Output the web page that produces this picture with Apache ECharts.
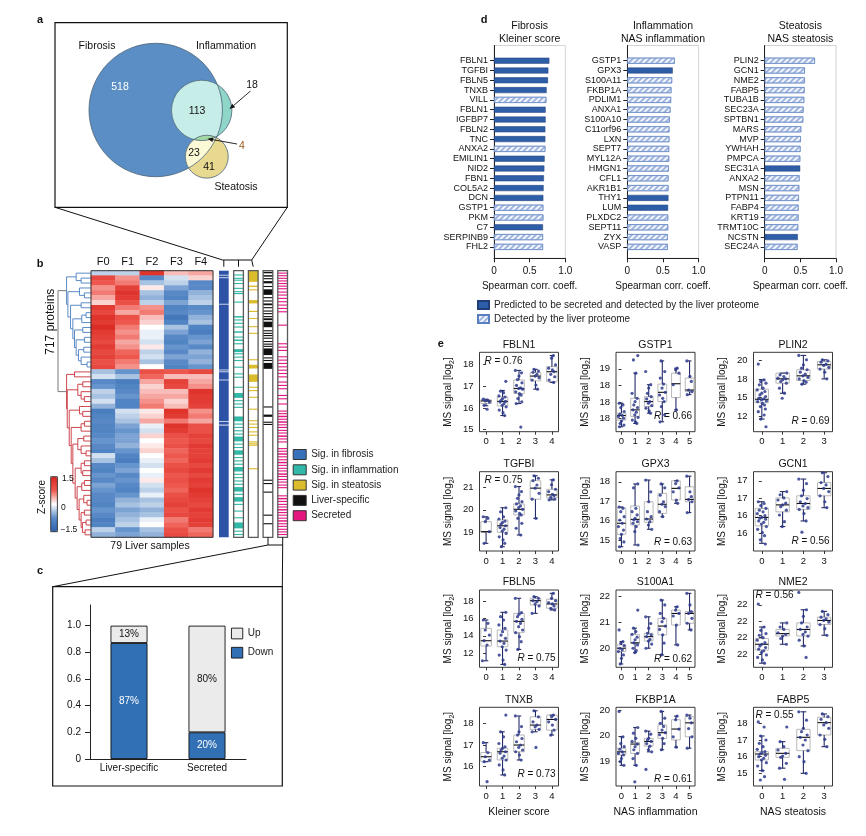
<!DOCTYPE html>
<html>
<head>
<meta charset="utf-8">
<script src="https://cdn.jsdelivr.net/npm/echarts@6.0.0/dist/echarts.min.js"></script>
<style>
html,body{margin:0;padding:0;background:#ffffff;}
#chart{width:866px;height:836px;}
</style>
</head>
<body>
<div id="chart"></div>
<script>
// ===================== DATA =====================
// ---- panel a : Venn ----
const vennSetNames = ['Fibrosis', 'Inflammation', 'Steatosis'];
// region counts: F only, F∩I, I only, F∩I∩S, F∩S, S only
const vennRegionCounts = [518, 113, 18, 4, 23, 41];

// ---- panel b : heatmap (row bands of the 717 proteins, z-scores) ----
const heatCols = ['F0', 'F1', 'F2', 'F3', 'F4'];
const heatRows = [
  [-0.3,-0.3,1.3,0.3,0.4],[1.0,0.5,-0.8,-0.2,0.2],[0.8,0.6,-0.4,-0.3,-0.8],[0.5,1.1,0.1,-0.6,-0.8],
  [0.6,1.3,-0.4,-0.8,-0.5],[0.4,1.2,-0.5,-0.9,-0.4],[0.2,0.9,-0.3,-0.6,-0.3],[1.2,0.6,0.5,-0.9,-0.8],
  [1.0,0.4,0.6,-0.8,-0.7],[1.3,0.9,0.3,-1.1,-0.5],[1.2,0.8,0.2,-0.9,-0.4],[1.4,0.6,0.0,-0.4,-0.9],
  [1.2,0.5,-0.1,-0.6,-1.0],[1.1,0.6,-0.1,-0.8,-0.7],[1.0,0.4,-0.2,-0.9,-0.6],[1.2,0.5,0.1,-0.7,-0.8],
  [1.0,0.7,-0.3,-0.8,-0.5],[1.1,0.8,-0.2,-0.6,-0.6],[0.9,0.6,-0.4,-0.8,-0.5],[1.0,0.5,0.0,-0.9,-0.7],
  [-0.4,-0.7,0.9,0.8,1.0],[-0.2,-0.4,0.7,0.3,0.3],[-0.8,-1.0,0.4,1.1,0.4],[-0.7,-0.9,0.2,1.0,0.5],
  [-0.3,-0.8,0.3,0.3,1.3],[-0.4,-0.7,0.4,0.4,1.2],[-0.2,-0.9,0.5,0.2,1.2],[-0.5,-0.9,0.6,0.3,1.1],
  [-1.0,-0.2,0.1,1.3,0.5],[-0.9,-0.3,0.2,1.2,0.6],[-0.8,-0.4,0.4,0.6,0.4],[-0.9,-0.6,-0.1,1.3,0.9],
  [-0.9,-0.7,-0.2,1.2,0.9],[-0.8,-0.6,0.2,0.9,1.1],[-0.7,-0.6,0.0,0.8,1.0],[-0.8,-0.5,0.1,0.9,1.2],
  [-0.9,-0.7,0.2,0.7,1.1],[-0.2,-0.9,0.0,0.8,1.1],[-0.4,-1.0,-0.1,0.7,1.2],[-0.8,-0.7,-0.2,0.9,1.0],
  [-0.9,-0.6,0.0,1.0,1.2],[-0.7,-0.8,-0.1,0.8,1.0],[-0.8,-0.7,0.1,0.9,1.2],[-0.6,-0.8,-0.2,0.8,1.1],
  [-0.7,-0.9,-0.3,0.7,1.3],[-0.8,-0.7,-0.1,0.9,1.2],[-0.8,-0.5,-0.4,1.0,1.1],[-0.9,-0.4,-0.3,1.1,1.0],
  [-0.7,-0.6,-0.5,0.9,1.2],[-0.8,-0.5,-0.4,1.0,1.1],[-1.0,-0.4,-0.1,0.6,1.2],[-0.9,-0.3,0.0,0.7,1.1],
  [-0.3,-0.7,-0.4,0.9,0.6],[-0.5,-0.6,-0.5,1.0,0.7]
];
// dendrogram over the row bands: [height, left, right]
const blueTree = [0.74, [0.45, 0, [0.3, 1, 2]],
  [0.70, [0.35, 3, [0.2, 4, 5]],
  [0.62, [0.3, 6, 7],
  [0.55, [0.28, [0.15, 8, 9], 10],
  [0.5, [0.25, 11, 12],
  [0.45, [0.2, 13, 14],
  [0.38, [0.22, 15, 16],
  [0.3, 17, [0.12, 18, 19]]]]]]]]];
const redTree = [0.74, [0.5, 20, 21],
  [0.72, [0.4, [0.25, 22, 23], [0.3, 24, [0.2, 25, 26]]],
  [0.66, [0.35, 27, [0.25, 28, 29]],
  [0.6, [0.3, [0.2, 30, 31], 32],
  [0.55, [0.4, [0.22, 33, 34], [0.3, 35, [0.15, 36, 37]]],
  [0.48, [0.3, [0.2, 38, 39], [0.25, 40, 41]],
  [0.42, [0.28, [0.2, 42, 43], 44],
  [0.36, [0.22, 45, [0.12, 46, 47]],
  [0.3, [0.2, 48, 49],
  [0.26, [0.15, 50, 51], [0.18, 52, 53]]]]]]]]]]];
const proteinCount = 717;
// annotation tracks: protein index ranges [start, end]
const annoNames = ['Sig. in fibrosis', 'Sig. in inflammation', 'Sig. in steatosis', 'Liver-specific', 'Secreted'];
const annoFib = [[0,11],[13,18],[20,89],[91,266],[268,271],[273,293],[295,405],[407,414],[416,717]];
const annoInfl = [[10,13],[19,22],[24,27],[33,36],[46,49],[55,58],[60,63],[83,86],[122,126],[131,134],[140,143],[150,153],[163,167],[177,180],[185,189],[195,198],[211,219],[222,225],[231,234],[240,243],[258,261],[276,279],[285,288],[312,315],[329,342],[348,351],[357,360],[366,369],[392,405],[411,414],[420,423],[429,432],[438,441],[446,459],[465,468],[474,477],[483,495],[501,504],[510,513],[519,522],[528,540],[546,549],[555,558],[564,567],[573,576],[582,594],[600,603],[609,621],[627,630],[645,648],[663,666],[677,693],[699,702],[708,711]];
const annoSteat = [[0,30],[40,44],[50,53],[79,88],[108,111],[127,130],[149,152],[167,170],[238,241],[253,263],[279,299],[312,315],[321,324],[339,342],[371,374],[402,405],[411,414],[420,423],[432,435],[441,444],[459,462],[464,467],[468,471],[531,534]];
const annoLiver = [[3,7],[12,16],[20,23],[28,34],[41,44],[50,65],[71,74],[80,83],[88,93],[98,101],[107,110],[114,117],[122,125],[128,133],[137,152],[160,163],[167,170],[173,176],[180,183],[189,192],[196,199],[202,205],[209,227],[233,236],[240,243],[248,264],[365,368],[387,393],[406,409],[412,415],[562,565],[571,574],[594,597],[656,659],[679,682]];
const annoSecr = [[5,8],[12,15],[19,22],[26,29],[33,36],[40,43],[47,50],[56,59],[64,67],[73,76],[82,85],[91,94],[100,103],[109,112],[145,148],[195,198],[204,207],[213,216],[230,233],[239,242],[248,251],[257,260],[266,269],[275,278],[284,287],[298,301],[307,310],[316,319],[334,337],[343,346],[357,360],[376,379],[383,386],[390,394],[398,401],[405,409],[413,416],[420,423],[428,431],[435,438],[443,447],[451,454],[459,462],[477,480],[484,487],[491,495],[499,502],[507,510],[514,518],[522,525],[530,533],[537,540],[545,549],[552,555],[560,563],[567,570],[575,578],[582,585],[604,607],[611,615],[619,622],[627,630],[634,637],[641,645],[649,652],[656,659],[664,667],[671,675],[679,682],[686,689],[694,697],[701,704],[708,711]];

// ---- panel c ----
const cCats = ['Liver-specific', 'Secreted'];
const cDown = [0.87, 0.20];
const cUp = [0.13, 0.80];
const cTicks = [0, 0.2, 0.4, 0.6, 0.8, 1.0];
const cTickLabels = ['0', '0.2', '0.4', '0.6', '0.8', '1.0'];

// ---- panel d ----
const fibGenes = ['FBLN1','TGFBI','FBLN5','TNXB','VILL','FBLN1','IGFBP7','FBLN2','TNC','ANXA2','EMILIN1','NID2','FBN1','COL5A2','DCN','GSTP1','PKM','C7','SERPINB9','FHL2'];
const fibVals = [0.776,0.762,0.757,0.738,0.734,0.724,0.724,0.72,0.72,0.72,0.71,0.706,0.70,0.696,0.692,0.692,0.692,0.687,0.687,0.687];
const fibSecreted = [1,1,1,1,0,1,1,1,1,0,1,1,1,1,1,0,0,1,0,0];
const inflGenes = ['GSTP1','GPX3','S100A11','FKBP1A','PDLIM1','ANXA1','S100A10','C11orf96','LXN','SEPT7','MYL12A','HMGN1','CFL1','AKR1B1','THY1','LUM','PLXDC2','SEPT11','ZYX','VASP'];
const inflVals = [0.665,0.637,0.628,0.619,0.614,0.605,0.595,0.59,0.59,0.586,0.586,0.581,0.577,0.577,0.577,0.572,0.572,0.572,0.567,0.567];
const inflSecreted = [0,1,0,0,0,0,0,0,0,0,0,0,0,0,1,1,0,0,0,0];
const steatGenes = ['PLIN2','GCN1','NME2','FABP5','TUBA1B','SEC23A','SPTBN1','MARS','MVP','YWHAH','PMPCA','SEC31A','ANXA2','MSN','PTPN11','FABP4','KRT19','TRMT10C','NCSTN','SEC24A'];
const steatVals = [0.704,0.563,0.563,0.559,0.554,0.545,0.54,0.512,0.507,0.502,0.498,0.498,0.488,0.484,0.479,0.474,0.474,0.469,0.465,0.46];
const steatSecreted = [0,0,0,0,0,0,0,0,0,0,0,1,0,0,0,0,0,0,1,0];
const dTitles = [['Fibrosis','Kleiner score'],['Inflammation','NAS inflammation'],['Steatosis','NAS steatosis']];
const dTicks = [0, 0.5, 1];
const dTickLabels = ['0', '0.5', '1.0'];
const dLegend = ['Predicted to be secreted and detected by the liver proteome', 'Detected by the liver proteome'];

// ---- panel e : box plots  [low whisker, q1, median, q3, high whisker] ----
const kleinerCats = ['0','1','2','3','4'];
const nasInflCats = ['0','1','2','3','4','5'];
const nasSteatCats = ['0','1','2','3'];

const FBLN1_stats = [[16.1,16.2,16.32,16.37,16.4],[15.65,16.09,16.3,16.51,16.8],[16.2,16.66,16.89,17.28,17.72],[16.86,17.24,17.46,17.63,17.77],[17.17,17.2,17.66,17.89,18.4]];
const FBLN1_pts = [[16.40,16.35,16.32,16.27,16.12,15.94],[17.22,16.77,16.7,16.55,16.5,16.43,16.35,16.3,16.27,16.2,16.12,16.05,15.9,15.78,15.65],[17.72,17.61,17.46,17.3,17.15,17.03,16.92,16.89,16.86,16.74,16.66,16.59,16.43,16.28,16.2,15.12],[17.77,17.69,17.63,17.54,17.46,17.38,17.28,17.05,16.86],[18.4,18.28,17.97,17.82,17.74,17.66,17.54,17.43,17.28,17.17]];
const FBLN1_ticks = [15,16,17,18], FBLN1_labels = ['15','16','17','18'];

const GSTP1_stats = [[17.25,17.45,17.59,17.66,17.96],[17.35,17.56,17.76,18.11,18.87],[17.66,17.86,18.01,18.16,18.52],[17.4,18.01,18.29,18.54,19.24],[17.76,18.13,18.55,18.87,19.02],[18.22,18.31,18.36,18.72,19.24]];
const GSTP1_pts = [[17.96,17.91,17.83,17.71,17.63,17.59,17.56,17.51,17.42,17.35,17.3,17.25],[19.4,19.27,18.87,18.26,18.11,18.01,17.91,17.83,17.76,17.69,17.61,17.53,17.45,17.4,17.35],[18.92,18.52,18.42,18.26,18.16,18.09,18.01,17.96,17.89,17.81,17.73,17.66],[19.24,18.92,18.72,18.54,18.42,18.29,18.21,18.11,18.01,17.86,17.61,17.4],[19.02,18.97,18.87,18.52,17.76],[19.24,18.77,18.62,18.36,18.31,18.22]];
const GSTP1_ticks = [17.5,18,18.5,19], GSTP1_labels = ['18','18','18','19'];

const PLIN2_stats = [[12.08,14.29,14.75,16.11,17.38],[15.57,16.93,17.51,18.29,18.29],[16.79,17.29,17.92,18.74,20.68],[17.51,18.83,19.41,19.86,20.09]];
const PLIN2_pts = [[19.51,17.38,17.15,16.93,16.7,16.25,16.02,15.8,15.57,15.34,15.12,14.89,14.8,14.66,14.53,14.44,14.21,13.98,13.76,13.44,13.08,12.63,12.08,11.04],[18.29,18.06,17.83,17.61,17.51,17.38,17.15,16.93,16.25,15.57,14.89],[20.68,20.09,19.41,18.96,18.74,18.42,18.15,17.92,17.7,17.52,17.29,17.06,16.79],[20.09,19.95,19.77,19.5,19.32,19.05,18.83,18.42,17.51]];
const PLIN2_ticks = [12.5,15,17.5,20], PLIN2_labels = ['12','15','18','20'];

const TGFBI_stats = [[18.51,19.0,19.03,19.47,19.69],[18.36,19.0,19.29,19.55,20.09],[18.88,19.77,20.02,20.26,21.03],[19.62,20.47,20.96,21.29,21.51],[20.44,20.53,20.66,20.91,21.33]];
const TGFBI_pts = [[19.69,19.62,19.47,19.03,18.51],[20.09,19.91,19.69,19.59,19.5,19.44,19.36,19.29,19.21,19.14,19.05,18.95,18.8,18.66,18.51,18.36],[21.03,20.81,20.66,20.51,20.36,20.26,20.17,20.1,20.02,19.95,19.84,19.77,19.62,19.4,19.18,18.88],[21.51,21.4,21.29,21.1,20.96,20.73,20.47,19.62],[21.33,21.11,20.91,20.81,20.69,20.63,20.55,20.47,20.44]];
const TGFBI_ticks = [19,20,21], TGFBI_labels = ['19','20','21'];

const GPX3_stats = [[14.65,15.29,15.86,16.66,16.7],[14.74,15.77,16.06,16.75,17.89],[15.55,15.91,16.08,16.97,18.09],[16.2,16.37,16.84,17.4,17.89],[16.89,17.06,17.66,18.05,18.05],[16.41,16.97,17.09,17.74,18.29]];
const GPX3_pts = [[16.7,16.63,16.46,16.2,16.03,15.86,15.69,15.51,15.29,15.07,14.9,14.65],[17.89,17.69,16.63,16.46,16.29,16.12,16.03,15.94,15.86,15.69,15.43,14.74],[18.09,17.48,16.97,16.46,16.2,16.08,15.94,15.77,15.55],[17.89,17.69,17.31,16.97,16.84,16.72,16.46,16.2],[18.05,17.91,17.69,17.48,17.06,16.89],[18.29,17.48,17.23,17.09,16.97,16.41]];
const GPX3_ticks = [15,16,17,18], GPX3_labels = ['15','16','17','18'];

const GCN1_stats = [[15.71,16.21,16.45,16.71,16.9],[16.19,16.61,16.81,17.01,17.19],[16.35,16.68,16.85,17.07,17.55],[16.73,17.07,17.28,17.45,17.73]];
const GCN1_pts = [[16.9,16.85,16.79,16.71,16.66,16.61,16.56,16.5,16.45,16.43,16.4,16.35,16.31,16.26,16.19,16.11,16.02,15.93,15.81,15.69],[17.19,17.1,17.01,16.95,16.86,16.81,16.76,16.66,16.52,16.33,16.19],[17.55,17.42,17.23,17.07,16.99,16.9,16.85,16.78,16.73,16.68,16.56,16.35,16.03],[17.73,17.62,17.45,17.38,17.28,17.19,17.07,16.9,16.73]];
const GCN1_ticks = [16,16.5,17,17.5], GCN1_labels = ['16','16','17','17'];

const FBLN5_stats = [[11.14,12.83,13.44,14.86,15.82],[10.72,12.75,13.4,14.67,16.7],[12.44,14.36,15.66,16.58,18.31],[16.58,17.54,18.04,18.31,18.49],[16.97,17.16,17.66,18.2,18.88]];
const FBLN5_pts = [[15.82,15.44,14.67,14.09,13.44,12.95,11.14],[16.7,16.2,15.82,15.25,14.86,14.48,14.09,13.71,13.4,13.14,12.75,12.37,11.79,11.22,10.72],[18.31,16.66,16.47,16.2,15.9,15.66,15.43,15.05,14.67,14.36,13.9,13.33,12.44],[18.49,18.31,18.04,17.92,17.66,17.43,16.58],[18.88,18.31,18.04,17.8,17.66,17.43,17.16,16.97]];
const FBLN5_ticks = [12,14,16,18], FBLN5_labels = ['12','14','16','18'];

const S100A1_stats = [[19.39,19.87,20.0,20.13,20.26],[19.83,20.19,20.21,20.54,20.78],[20.0,20.28,20.45,20.58,21.22],[19.74,20.52,20.86,21.16,21.87],[20.13,20.9,21.35,21.48,21.61],[20.71,20.97,21.35,21.42,22.13]];
const S100A1_pts = [[20.71,20.26,20.19,20.1,20.0,19.94,19.87,19.74,19.61,19.39],[21.48,20.78,20.65,20.54,20.43,20.33,20.21,20.13,20.0,19.91,19.83],[21.22,20.96,20.78,20.58,20.52,20.45,20.34,20.28,20.16,20.0],[21.87,21.68,21.35,21.16,21.03,20.86,20.73,20.52,20.2,19.74],[21.61,21.48,21.35,21.25,20.9,20.13],[22.13,21.68,21.42,21.35,21.16,20.97,20.71]];
const S100A1_ticks = [20,21,22], S100A1_labels = ['20','21','22'];

const NME2_stats = [[21.49,21.65,21.72,21.79,21.93],[21.72,21.82,21.85,21.9,21.98],[21.7,21.82,21.9,21.98,22.14],[21.83,21.96,22.01,22.05,22.12]];
const NME2_pts = [[22.21,21.93,21.89,21.85,21.83,21.8,21.77,21.74,21.72,21.7,21.68,21.66,21.64,21.62,21.59,21.56,21.53,21.49],[21.98,21.93,21.9,21.86,21.84,21.82,21.79,21.72],[22.35,22.14,22.06,21.98,21.93,21.9,21.87,21.84,21.82,21.77,21.7,21.56],[22.12,22.08,22.05,22.03,22.01,21.99,21.96,21.91,21.83]];
const NME2_ticks = [21.6,21.8,22.0,22.2], NME2_labels = ['22','22','22','22'];

const TNXB_stats = [[16.23,16.23,16.46,16.65,17.11],[15.62,16.31,16.69,16.85,17.61],[16.31,16.69,17.0,17.46,18.34],[17.61,17.72,17.92,18.3,18.58],[17.46,17.69,18.18,18.38,18.38]];
const TNXB_pts = [[17.11,16.65,16.46,16.3,16.23,15.31],[18.38,17.61,17.38,17.07,16.92,16.85,16.77,16.69,16.62,16.49,16.39,16.31,16.08,15.85,15.62],[18.34,17.85,17.61,17.46,17.3,17.15,17.0,16.89,16.77,16.69,16.54,16.31],[18.58,18.3,18.07,17.92,17.84,17.72,17.61,16.89],[18.38,18.3,18.18,18.07,17.92,17.69,17.46]];
const TNXB_ticks = [16,17,18], TNXB_labels = ['16','17','18'];

const FKBP1A_stats = [[18.93,19.13,19.19,19.26,19.48],[18.93,19.16,19.34,19.37,19.66],[19.19,19.3,19.39,19.45,19.59],[19.23,19.45,19.56,19.71,19.97],[19.28,19.42,19.63,19.81,19.88],[19.26,19.48,19.75,19.87,19.9]];
const FKBP1A_pts = [[19.97,19.48,19.35,19.29,19.24,19.19,19.16,19.13,19.06,19.0,18.93],[19.66,19.55,19.45,19.39,19.34,19.29,19.23,19.16,19.06,18.93,18.61],[19.59,19.53,19.45,19.42,19.39,19.35,19.3,19.23,19.19,18.85],[19.97,19.84,19.74,19.68,19.61,19.56,19.52,19.45,19.35,19.23],[19.88,19.81,19.63,19.48,19.28],[19.9,19.84,19.75,19.64,19.48,19.26]];
const FKBP1A_ticks = [19,19.5,20], FKBP1A_labels = ['19','20','20'];

const FABP5_stats = [[15.16,15.8,16.16,16.3,17.24],[15.31,15.96,16.2,16.5,16.9],[15.0,16.36,17.16,17.64,18.69],[16.6,17.3,18.04,18.36,18.56]];
const FABP5_pts = [[18.08,17.78,17.24,17.0,16.8,16.6,16.44,16.3,16.24,16.16,16.08,16.0,15.9,15.8,15.64,15.44,15.16,14.8,14.6],[17.78,16.9,16.6,16.4,16.2,16.04,15.96,15.6,15.31,14.64],[18.69,18.19,17.7,17.5,17.3,17.16,17.0,16.7,16.36,16.0,15.7,15.0],[18.56,18.4,18.24,18.04,17.9,17.7,17.3,17.04,16.6]];
const FABP5_ticks = [15,16,17,18], FABP5_labels = ['15','16','17','18'];

const eRValues = ['0.76','0.66','0.69','0.75','0.63','0.56','0.75','0.62','0.56','0.73','0.61','0.55'];

// ===================== LAYOUT / BUILD =====================
const FONT = "'Liberation Sans', Arial, Helvetica, sans-serif";
const grids = [], xAxes = [], yAxes = [], series = [], graphics = [];
function addGrid(g, x, y) {
  grids.push(g);
  const i = grids.length - 1;
  xAxes.push(Object.assign({gridIndex: i}, x));
  yAxes.push(Object.assign({gridIndex: i}, y));
  return i;
}
const hidden = (min, max, inv) => ({type: 'value', min, max, inverse: !!inv, show: false});
function txt(text, x, y, o) {
  o = o || {};
  return {type: 'text', x, y, z: 100, silent: true, rotation: o.rot || 0,
    style: Object.assign({text, fontSize: o.fs || 10, fontFamily: FONT, fill: o.color || '#111',
      fontWeight: o.bold ? 'bold' : 'normal', align: o.align || 'center', verticalAlign: o.va || 'middle'}, o.style || {})};
}
function ln(x1, y1, x2, y2, o) {
  o = o || {};
  return {type: 'line', z: 100, silent: true, shape: {x1, y1, x2, y2}, style: {stroke: o.color || '#111', lineWidth: o.w || 1}};
}
function rectO(x, y, w, h, o) {
  o = o || {};
  return {type: 'rect', z: 100, silent: true, shape: {x, y, width: w, height: h}, style: {fill: 'none', stroke: o.color || '#111', lineWidth: o.w || 1}};
}
function arrow(x1, y1, x2, y2) {
  const a = Math.atan2(y2 - y1, x2 - x1), L = 5.5, W = 2.3;
  const bx = x2 - L * Math.cos(a), by = y2 - L * Math.sin(a);
  const nx = -Math.sin(a), ny = Math.cos(a);
  return [ln(x1, y1, bx, by, {w: 0.9}), {type: 'polygon', z: 100, silent: true,
    shape: {points: [[x2, y2], [bx + W * nx, by + W * ny], [bx - W * nx, by - W * ny]]}, style: {fill: '#111'}}];
}

// ---------- panel a : Venn ----------
const vennTotals = [
  vennRegionCounts[0] + vennRegionCounts[1] + vennRegionCounts[3] + vennRegionCounts[4],
  vennRegionCounts[1] + vennRegionCounts[2] + vennRegionCounts[3],
  vennRegionCounts[3] + vennRegionCounts[4] + vennRegionCounts[5]
];
const vennCenters = [[100.7, 87.3], [146.7, 87.7], [151.8, 134.0]];
const vennRadiusScale = 2.6;
function lensPts(a, b, n) {
  const dx = b.x - a.x, dy = b.y - a.y, d = Math.hypot(dx, dy);
  const t = Math.atan2(dy, dx);
  const da = (d * d + a.r * a.r - b.r * b.r) / (2 * d), db = d - da;
  const al = Math.acos(Math.max(-1, Math.min(1, da / a.r)));
  const bl = Math.acos(Math.max(-1, Math.min(1, db / b.r)));
  const pts = [];
  for (let i = 0; i <= n; i++) { const th = t - al + 2 * al * i / n; pts.push([a.x + a.r * Math.cos(th), a.y + a.r * Math.sin(th)]); }
  const t2 = t + Math.PI;
  for (let i = 0; i <= n; i++) { const th = t2 - bl + 2 * bl * i / n; pts.push([b.x + b.r * Math.cos(th), b.y + b.r * Math.sin(th)]); }
  return pts;
}
function renderVenn(params, api) {
  const C = vennCenters.map((c, i) => {
    const p = api.coord(c);
    const r = api.size([vennRadiusScale * Math.sqrt(vennTotals[i]), 0])[0];
    return {x: p[0], y: p[1], r};
  });
  const circ = (c, fill) => ({type: 'circle', shape: {cx: c.x, cy: c.y, r: c.r}, style: {fill}});
  const poly = (pts, fill) => ({type: 'polygon', shape: {points: pts}, style: {fill}});
  const outl = c => ({type: 'circle', shape: {cx: c.x, cy: c.y, r: c.r}, style: {fill: 'none', stroke: '#4d6377', lineWidth: 0.8}});
  return {type: 'group', children: [
    circ(C[0], '#5b8ec4'),
    circ(C[1], '#8fd5c8'),
    poly(lensPts(C[0], C[1], 60), '#c6ede7'),
    circ(C[2], '#e7d98f'),
    poly(lensPts(C[0], C[2], 60), '#fbf9d6'),
    poly(lensPts(C[1], C[2], 40), '#a3d8a6'),
    outl(C[0]), outl(C[1]), outl(C[2])
  ]};
}
const gV = addGrid({left: 55, top: 22.7, width: 232.3, height: 184.6}, hidden(0, 232.3), hidden(0, 184.6, true));
series.push({type: 'custom', xAxisIndex: gV, yAxisIndex: gV, data: [[0, 0]], silent: true, renderItem: renderVenn});

graphics.push(rectO(55, 22.7, 232.3, 184.6, {w: 1.2}));
graphics.push(txt('a', 40, 20, {bold: true, fs: 11}));
graphics.push(txt(vennSetNames[0], 97, 46, {fs: 10.5}));
graphics.push(txt(vennSetNames[1], 226, 46, {fs: 10.5}));
graphics.push(txt(vennSetNames[2], 236, 187, {fs: 10.5}));
graphics.push(txt(String(vennRegionCounts[0]), 120, 87, {fs: 10.5, color: '#ffffff'}));
graphics.push(txt(String(vennRegionCounts[1]), 197, 111, {fs: 10.5}));
graphics.push(txt(String(vennRegionCounts[2]), 252, 85, {fs: 10.5}));
graphics.push(txt(String(vennRegionCounts[3]), 242, 146, {fs: 10.5, color: '#9a5a1c'}));
graphics.push(txt(String(vennRegionCounts[4]), 194, 153, {fs: 10.5}));
graphics.push(txt(String(vennRegionCounts[5]), 209, 167, {fs: 10.5}));
graphics.push(...arrow(250.5, 91, 229.5, 109));
graphics.push(...arrow(237, 144, 207.5, 138.7));
// zoom lines a -> b
graphics.push(ln(55, 207.3, 222.7, 260));
graphics.push(ln(287.3, 207.3, 251.7, 260));
graphics.push(ln(222.7, 260, 251.7, 260));
graphics.push(ln(223.8, 260, 223.8, 266.7), ln(238.5, 260, 238.5, 266.7), ln(251.7, 260, 253.2, 266.7));

// ---------- panel b : dendrogram ----------
function layoutTree(node, segs, grp) {
  if (typeof node === 'number') return {h: 0, y: node + 0.5};
  const L = layoutTree(node[1], segs, grp), R = layoutTree(node[2], segs, grp);
  const h = node[0];
  segs.push([h, L.y, h, R.y, grp], [h, L.y, L.h, L.y, grp], [h, R.y, R.h, R.y, grp]);
  return {h, y: (L.y + R.y) / 2};
}
const dendroSegs = [];
const bNode = layoutTree(blueTree, dendroSegs, 1);
const rNode = layoutTree(redTree, dendroSegs, 2);
dendroSegs.push([1, bNode.y, 1, rNode.y, 0], [1, bNode.y, bNode.h, bNode.y, 0], [1, rNode.y, rNode.h, rNode.y, 0]);
const dendroColors = ['#6a6a6a', '#4a7ec2', '#c8323a'];
const gD = addGrid({left: 58, top: 270.7, width: 33, height: 266.6}, hidden(0, 1, true), hidden(0, heatRows.length, true));
series.push({type: 'custom', xAxisIndex: gD, yAxisIndex: gD, data: dendroSegs, silent: true,
  renderItem: (params, api) => {
    const p1 = api.coord([api.value(0), api.value(1)]), p2 = api.coord([api.value(2), api.value(3)]);
    return {type: 'line', shape: {x1: p1[0], y1: p1[1], x2: p2[0], y2: p2[1]},
      style: {stroke: dendroColors[api.value(4)], lineWidth: 0.9}};
  }});

// ---------- panel b : heatmap ----------
const heatData = [];
heatRows.forEach((row, r) => row.forEach((v, c) => heatData.push([c, r, v])));
const gH = addGrid({left: 91, top: 270.7, width: 122, height: 266.6},
  {type: 'category', data: heatCols, position: 'top', axisLine: {show: false}, axisTick: {show: false},
    axisLabel: {fontSize: 11, color: '#111', fontFamily: FONT, margin: 3}},
  {type: 'category', data: heatRows.map((_, i) => 'r' + i), inverse: true, show: false});
const heatSeriesIndex = series.length;
series.push({type: 'heatmap', xAxisIndex: gH, yAxisIndex: gH, data: heatData, silent: true});
graphics.push(rectO(91, 270.7, 122, 266.6, {w: 1, color: '#333'}));

// ---------- panel b : annotation tracks ----------
const annoColors = ['#2e52a6', '#31b8a6', '#dbbc2c', '#111111', '#e3167f'];
const annoTracks = [annoFib, annoInfl, annoSteat, annoLiver, annoSecr];
const gA = addGrid({left: 216.5, top: 270.7, width: 73.5, height: 266.6}, hidden(0, 5), hidden(0, proteinCount, true));
function renderAnno(params, api) {
  const c = api.value(0), s = api.value(1), e = api.value(2);
  const p0 = api.coord([c + 0.5 - 0.33, s]), p1 = api.coord([c + 0.5 + 0.33, e]);
  return {type: 'rect', shape: {x: p0[0], y: p0[1], width: p1[0] - p0[0], height: Math.max(1, p1[1] - p0[1])},
    style: {fill: api.visual('color')}};
}
annoTracks.forEach((arr, ci) => {
  series.push({type: 'custom', name: annoNames[ci], xAxisIndex: gA, yAxisIndex: gA, silent: true,
    itemStyle: {color: annoColors[ci]}, data: arr.map(r => [ci, r[0], r[1]]), renderItem: renderAnno});
});
series.push({type: 'custom', xAxisIndex: gA, yAxisIndex: gA, silent: true, data: [[1], [2], [3], [4]],
  renderItem: (params, api) => {
    const c = api.value(0);
    const p0 = api.coord([c + 0.5 - 0.33, 0]), p1 = api.coord([c + 0.5 + 0.33, proteinCount]);
    return {type: 'rect', shape: {x: p0[0], y: p0[1], width: p1[0] - p0[0], height: p1[1] - p0[1]},
      style: {fill: 'none', stroke: '#5a5a5a', lineWidth: 1.3}};
  }});

graphics.push(txt('b', 40, 264, {bold: true, fs: 11}));
graphics.push(txt('717 proteins', 50.5, 321.7, {fs: 12, rot: Math.PI / 2}));
graphics.push(txt('79 Liver samples', 150, 546, {fs: 10.5}));
graphics.push(txt('Z-score', 42.7, 497, {fs: 10, rot: Math.PI / 2}));
graphics.push(rectO(50.7, 476.7, 6.7, 55, {w: 0.8}));
graphics.push(txt('1.5', 62, 479, {fs: 8.5, align: 'left'}));
graphics.push(txt('0', 61, 507.5, {fs: 8.5, align: 'left'}));
graphics.push(txt('\u22121.5', 60.5, 529.5, {fs: 8.5, align: 'left'}));
// bracket b -> c
graphics.push(ln(268, 537.3, 268, 545), ln(282.7, 537.3, 282.7, 545), ln(268, 545, 282.7, 545));
graphics.push(ln(52.7, 586.7, 268, 545));
graphics.push(ln(282.3, 586.7, 282.7, 545));

// ---------- panel c ----------
graphics.push(rectO(52.7, 586.7, 229.6, 199.3, {w: 1.2}));
graphics.push(txt('c', 40, 571, {bold: true, fs: 11}));
const gC = addGrid({left: 90, top: 605, width: 156, height: 154},
  {type: 'category', data: cCats, axisLine: {show: true, lineStyle: {color: '#222', width: 1}}, axisTick: {show: false},
    axisLabel: {fontSize: 10, color: '#111', fontFamily: FONT, margin: 4}},
  {type: 'value', min: 0, max: 1.155, splitLine: {show: false},
    axisLine: {show: true, lineStyle: {color: '#222', width: 1}},
    axisTick: {show: true, customValues: cTicks, length: 5, lineStyle: {color: '#222'}},
    axisLabel: {customValues: cTicks, fontSize: 10, color: '#111', fontFamily: FONT, margin: 9,
      formatter: v => cTickLabels[cTicks.findIndex(t => Math.abs(t - v) < 1e-6)]}});
const pctFmt = p => Math.round(p.value * 100) + '%';
series.push({type: 'bar', name: 'Down', stack: 'c', xAxisIndex: gC, yAxisIndex: gC, barWidth: 37, data: cDown, silent: true,
  itemStyle: {color: '#3170b4', borderColor: '#111', borderWidth: 0.9},
  label: {show: true, position: 'inside', color: '#ffffff', fontSize: 10, fontFamily: FONT, formatter: pctFmt}});
series.push({type: 'bar', name: 'Up', stack: 'c', xAxisIndex: gC, yAxisIndex: gC, barWidth: 37, data: cUp, silent: true,
  itemStyle: {color: '#ebebeb', borderColor: '#111', borderWidth: 0.9},
  label: {show: true, position: 'inside', color: '#111', fontSize: 10, fontFamily: FONT, formatter: pctFmt}});

// ---------- panel d ----------
graphics.push(txt('d', 484, 20, {bold: true, fs: 11}));
const dLeft = [494, 627.3, 764.7], dW = 71.3;
const solidStyle = {color: '#2f5ea8', borderColor: '#1f3e78', borderWidth: 0.5};
const hatchStyle = {color: '#f4f7fd', borderColor: '#5a7fc0', borderWidth: 0.6,
  decal: {symbol: 'rect', symbolSize: 1, color: '#9fb5df', dashArrayX: [1, 0], dashArrayY: [1.3, 1.6], rotation: -Math.PI / 4}};
[[fibGenes, fibVals, fibSecreted], [inflGenes, inflVals, inflSecreted], [steatGenes, steatVals, steatSecreted]].forEach((d, k) => {
  const genes = d[0], vals = d[1], sec = d[2];
  const gF = addGrid({left: dLeft[k], top: 45.5, width: dW, height: 212.8, show: true, borderColor: '#d3d3d3', borderWidth: 1},
    {type: 'value', min: 0, max: 1, splitLine: {show: false},
      axisLine: {show: true, lineStyle: {color: '#222', width: 1}},
      axisTick: {show: true, customValues: dTicks, length: 4, lineStyle: {color: '#222'}},
      axisLabel: {customValues: dTicks, fontSize: 10, color: '#111', fontFamily: FONT, margin: 8,
        formatter: v => dTickLabels[dTicks.findIndex(t => Math.abs(t - v) < 1e-6)]},
      name: 'Spearman corr. coeff.', nameLocation: 'middle', nameGap: 23,
      nameTextStyle: {fontSize: 10, color: '#111', fontFamily: FONT}},
    {type: 'value', min: 0, max: 1, splitLine: {show: false}, axisTick: {show: false}, axisLabel: {show: false},
      axisLine: {show: true, lineStyle: {color: '#222', width: 1}}});
  const gB = addGrid({left: dLeft[k], top: 55.8, width: dW, height: 196},
    hidden(0, 1),
    {type: 'category', inverse: true, data: genes.map((_, i) => String(i)), axisLine: {show: false},
      axisTick: {show: true, alignWithLabel: true, interval: 0, length: 4, lineStyle: {color: '#222'}},
      axisLabel: {interval: 0, fontSize: 9, color: '#111', fontFamily: FONT, margin: 6, formatter: (v, i) => genes[i]}});
  series.push({type: 'bar', name: dLegend[0], xAxisIndex: gB, yAxisIndex: gB, barWidth: 6, barGap: '-100%', silent: true,
    data: vals.map((v, i) => sec[i] ? v : '-'), itemStyle: solidStyle});
  series.push({type: 'bar', name: dLegend[1], xAxisIndex: gB, yAxisIndex: gB, barWidth: 6, barGap: '-100%', silent: true,
    data: vals.map((v, i) => sec[i] ? '-' : v), itemStyle: hatchStyle});
  const cx = dLeft[k] + dW / 2;
  graphics.push(txt(dTitles[k][0], cx, 26, {fs: 10.5}));
  graphics.push(txt(dTitles[k][1], cx, 39, {fs: 10.5}));
});

// ---------- panel e ----------
graphics.push(txt('e', 440.7, 344.3, {bold: true, fs: 11}));
const eCatSets = [kleinerCats, nasInflCats, nasSteatCats];
const eXNames = ['Kleiner score', 'NAS inflammation', 'NAS steatosis'];
const ePlots = [
  {name: 'FBLN1', stats: FBLN1_stats, pts: FBLN1_pts, yr: [14.91, 18.55], ticks: FBLN1_ticks, labels: FBLN1_labels, rp: ['tl', 9.4]},
  {name: 'GSTP1', stats: GSTP1_stats, pts: GSTP1_pts, yr: [17.1, 19.5], ticks: GSTP1_ticks, labels: GSTP1_labels, rp: ['br', 15]},
  {name: 'PLIN2', stats: PLIN2_stats, pts: PLIN2_pts, yr: [10.37, 21.1], ticks: PLIN2_ticks, labels: PLIN2_labels, rp: ['br', 10]},
  {name: 'TGFBI', stats: TGFBI_stats, pts: TGFBI_pts, yr: [18.17, 21.69], ticks: TGFBI_ticks, labels: TGFBI_labels, rp: ['tl', 9]},
  {name: 'GPX3', stats: GPX3_stats, pts: GPX3_pts, yr: [14.43, 18.52], ticks: GPX3_ticks, labels: GPX3_labels, rp: ['br', 9]},
  {name: 'GCN1', stats: GCN1_stats, pts: GCN1_pts, yr: [15.49, 17.76], ticks: GCN1_ticks, labels: GCN1_labels, rp: ['br', 10]},
  {name: 'FBLN5', stats: FBLN5_stats, pts: FBLN5_pts, yr: [10.39, 19.26], ticks: FBLN5_ticks, labels: FBLN5_labels, rp: ['br', 9]},
  {name: 'S100A1', stats: S100A1_stats, pts: S100A1_pts, yr: [19.26, 22.26], ticks: S100A1_ticks, labels: S100A1_labels, rp: ['br', 8.5]},
  {name: 'NME2', stats: NME2_stats, pts: NME2_pts, yr: [21.44, 22.38], ticks: NME2_ticks, labels: NME2_labels, rp: ['tl', 5.5]},
  {name: 'TNXB', stats: TNXB_stats, pts: TNXB_pts, yr: [15.11, 18.74], ticks: TNXB_ticks, labels: TNXB_labels, rp: ['br', 12]},
  {name: 'FKBP1A', stats: FKBP1A_stats, pts: FKBP1A_pts, yr: [18.53, 20.05], ticks: FKBP1A_ticks, labels: FKBP1A_labels, rp: ['br', 7]},
  {name: 'FABP5', stats: FABP5_stats, pts: FABP5_pts, yr: [14.24, 18.96], ticks: FABP5_ticks, labels: FABP5_labels, rp: ['tl', 8]}
];
const E_LEFT = [479.5, 616, 753.5], E_W = 79;
const E_TOP = [352.3, 471.7, 590, 707.3], E_H = [79.4, 79.3, 77.3, 78.7];
const E_RLEFT = [5, 4, 2];
const JIT = [-0.17, 0.11, -0.05, 0.2, -0.12, 0.06, -0.22, 0.15, 0.0, -0.09, 0.18, -0.15, 0.09, -0.02, 0.22, -0.2, 0.03, 0.13, -0.07, 0.17];
function renderBox(params, api) {
  const cat = api.value(0);
  const bw = api.size([0.64, 0])[0], cw = bw * 0.42;
  const x = api.coord([cat, api.value(3)])[0];
  const yl = api.coord([cat, api.value(1)])[1], y1 = api.coord([cat, api.value(2)])[1];
  const ym = api.coord([cat, api.value(3)])[1], y3 = api.coord([cat, api.value(4)])[1];
  const yh = api.coord([cat, api.value(5)])[1];
  const wst = {stroke: '#262c66', lineWidth: 1.1};
  return {type: 'group', children: [
    {type: 'rect', shape: {x: x - bw / 2, y: y3, width: bw, height: Math.max(0.5, y1 - y3)}, style: {fill: 'none', stroke: '#b8b8b8', lineWidth: 1}},
    {type: 'line', shape: {x1: x, y1: yh, x2: x, y2: y3}, style: wst},
    {type: 'line', shape: {x1: x, y1: y1, x2: x, y2: yl}, style: wst},
    {type: 'line', shape: {x1: x - cw / 2, y1: yh, x2: x + cw / 2, y2: yh}, style: wst},
    {type: 'line', shape: {x1: x - cw / 2, y1: yl, x2: x + cw / 2, y2: yl}, style: wst},
    {type: 'line', shape: {x1: x - bw / 2, y1: ym, x2: x + bw / 2, y2: ym}, style: {stroke: '#111', lineWidth: 1.1}}
  ]};
}
ePlots.forEach((p, k) => {
  const row = Math.floor(k / 3), col = k % 3;
  const cats = eCatSets[col], n = cats.length, catVals = cats.map((_, i) => i);
  const left = E_LEFT[col], top = E_TOP[row], h = E_H[row];
  const g = addGrid({left, top, width: E_W, height: h, show: true, borderColor: '#222', borderWidth: 0.9},
    {type: 'value', min: -0.4, max: n - 0.6, splitLine: {show: false}, axisLine: {show: false},
      axisTick: {show: true, customValues: catVals, length: 3, lineStyle: {color: '#222', width: 0.9}},
      axisLabel: {customValues: catVals, fontSize: 9.5, color: '#111', fontFamily: FONT, margin: 5,
        formatter: v => cats[Math.round(v)]},
      name: row === 3 ? eXNames[col] : '', nameLocation: 'middle', nameGap: 21,
      nameTextStyle: {fontSize: 10.5, color: '#111', fontFamily: FONT}},
    {type: 'value', min: p.yr[0], max: p.yr[1], splitLine: {show: false}, axisLine: {show: false},
      axisTick: {show: true, customValues: p.ticks, length: 3, lineStyle: {color: '#222', width: 0.9}},
      axisLabel: {customValues: p.ticks, fontSize: 9.5, color: '#111', fontFamily: FONT, margin: 6,
        formatter: v => p.labels[p.ticks.findIndex(t => Math.abs(t - v) < 1e-6)]},
      name: 'MS signal [log{s|2}]', nameLocation: 'middle', nameGap: 26, nameRotate: 90,
      nameTextStyle: {fontSize: 10, color: '#111', fontFamily: FONT,
        rich: {s: {fontSize: 7, fontFamily: FONT, color: '#111', verticalAlign: 'bottom', padding: [0, 0, -2, 0]}}}});
  series.push({type: 'custom', xAxisIndex: g, yAxisIndex: g, silent: true,
    data: p.stats.map((s, i) => [i].concat(s)), renderItem: renderBox});
  const pts = [];
  p.pts.forEach((arr, i) => arr.forEach((v, j) => pts.push([i + JIT[(j + i * 3) % JIT.length], v])));
  series.push({type: 'scatter', xAxisIndex: g, yAxisIndex: g, silent: true, data: pts, symbolSize: 3.2,
    itemStyle: {color: '#2d3a8c', opacity: 0.85}});
  graphics.push(txt(p.name, left + E_W / 2, top - 7.5, {fs: 10.5}));
  const rText = '{i|R} = ' + eRValues[k];
  const rich = {i: {fontStyle: 'italic', fontSize: 10, fontFamily: FONT, fill: '#111'}};
  if (p.rp[0] === 'tl') graphics.push(txt(rText, left + E_RLEFT[col], top + p.rp[1], {fs: 10, align: 'left', style: {rich}}));
  else graphics.push(txt(rText, left + E_W - 3, top + h - p.rp[1], {fs: 10, align: 'right', style: {rich}}));
});

// ===================== CHART =====================
const legendText = {fontSize: 10, fontFamily: FONT, color: '#222'};
const option = {
  animation: false,
  backgroundColor: '#ffffff',
  grid: grids, xAxis: xAxes, yAxis: yAxes, series: series,
  visualMap: {type: 'continuous', min: -1.5, max: 1.5, seriesIndex: heatSeriesIndex, left: 50.7, top: 476.7,
    itemWidth: 6.7, itemHeight: 55, calculable: false, padding: 0, text: null, show: true, hoverLink: false,
    textStyle: {fontSize: 1, color: 'rgba(0,0,0,0)'},
    inRange: {color: ['#2b62ad', '#5b8cc8', '#ffffff', '#ee5a50', '#d8261f']}},
  legend: [
    {left: 292.7, top: 449, orient: 'vertical', icon: 'rect', itemWidth: 13, itemHeight: 10, itemGap: 4.3, padding: 0,
      selectedMode: false, textStyle: legendText, itemStyle: {borderColor: '#333', borderWidth: 1},
      data: [{name: annoNames[0], itemStyle: {color: '#3871b9'}}, annoNames[1], annoNames[2], annoNames[3], annoNames[4]]},
    {left: 231, top: 627.7, orient: 'vertical', icon: 'rect', itemWidth: 11.3, itemHeight: 10.7, itemGap: 7.6, padding: 0,
      selectedMode: false, textStyle: legendText, itemStyle: {borderColor: '#111', borderWidth: 0.9}, data: ['Up', 'Down']},
    {left: 477, top: 300, orient: 'vertical', icon: 'rect', itemWidth: 11, itemHeight: 8, itemGap: 4, padding: 0,
      selectedMode: false, textStyle: legendText, data: dLegend}
  ],
  graphic: {elements: graphics}
};
const chart = echarts.init(document.getElementById('chart'), null, {renderer: 'canvas'});
chart.setOption(option);
</script>
</body>
</html>
